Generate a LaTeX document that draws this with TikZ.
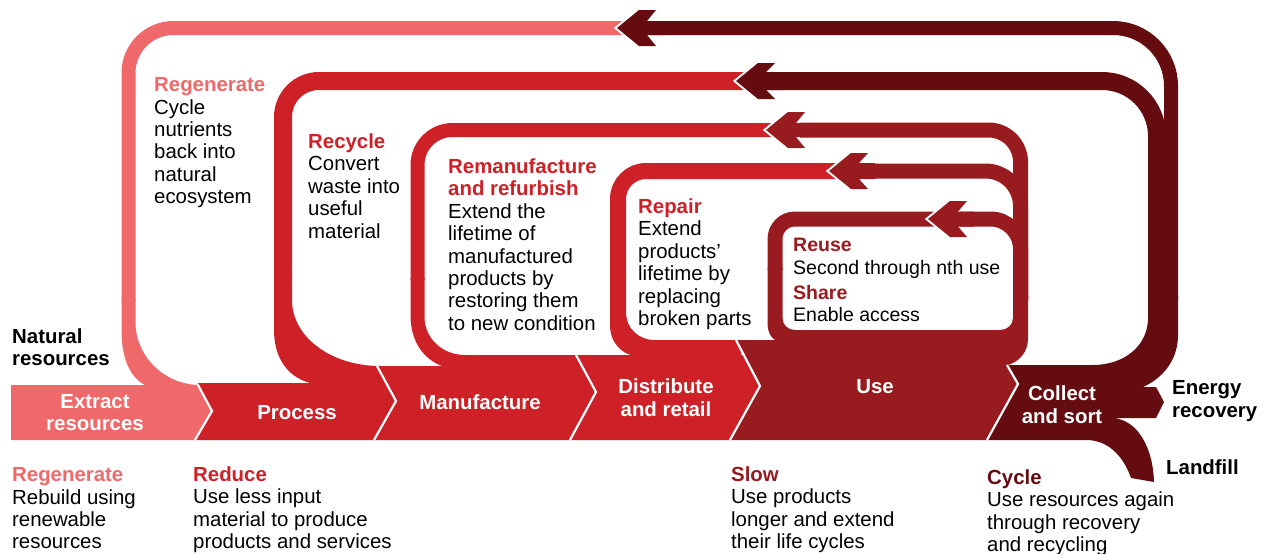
\documentclass[tikz,border=0pt]{standalone}
\usepackage{fontspec}
\setmainfont{Liberation Sans}

\definecolor{regen}{RGB}{240,105,106}
\definecolor{loopred}{RGB}{205,32,39}
\definecolor{usered}{RGB}{152,27,32}
\definecolor{collect}{RGB}{101,12,16}

\tikzset{
  txt/.style={font=\fontsize{20.4}{22.4}\selectfont, align=left, inner sep=0pt, anchor=north west},
  smalltxt/.style={txt, font=\fontsize{19.5}{22.4}\selectfont},
  stage/.style={font=\fontsize{20.4}{22.8}\selectfont\bfseries, text=white, align=center, inner sep=0pt},
  blackhead/.style={txt, font=\fontsize{20.4}{22.4}\selectfont\bfseries},
  sep/.style={white, line width=2.2pt},
}
% heading in colour
\newcommand\hd[2]{\textcolor{#1}{\bfseries #2}}
% arrow head: tip x, tip y, half bar width, colour
\newcommand\loophead[4]{%
  \draw[white, line width=4pt] (#1+22,#2-18) -- (#1,#2) -- (#1+22,#2+18);
  \fill[#4] (#1,#2) -- (#1+22,#2-18) -- (#1+39,#2-18) -- (#1+30,#2-#3) -- (#1+46,#2-#3)
    -- (#1+46,#2+#3) -- (#1+30,#2+#3) -- (#1+39,#2+18) -- (#1+22,#2+18) -- cycle;}

\begin{document}
\begin{tikzpicture}[x=1pt, y=-1pt]
\useasboundingbox (0,0) rectangle (1267,554);

% loops going back (left side)
\draw[regen, line width=14pt, rounded corners=45pt] (640,28) -- (128.5,28) -- (128.5,300);
\draw[loopred, line width=18pt, rounded corners=36pt] (760,81) -- (283,81) -- (283,280);
\draw[loopred, line width=14pt, rounded corners=35pt] (790,130) -- (417.5,130) -- (417.5,280);
\draw[loopred, line width=16pt, rounded corners=28pt] (850,171) -- (618,171) -- (618,280);
\draw[usered, line width=15pt, rounded corners=20pt] (950,219) -- (775,219) -- (775,270);

% return trunks (right side)
\draw[collect, line width=14pt, rounded corners=58pt] (650,28) -- (1171,28) -- (1171,300);
\draw[collect, line width=18pt, rounded corners=55pt] (770,81) -- (1157,81) -- (1157,300);
\draw[usered, line width=15pt, rounded corners=32pt] (800,130) -- (1020.5,130) -- (1020.5,300);
\draw[usered, line width=15pt, rounded corners=35pt] (862,171) -- (1020.5,171) -- (1020.5,300);
\draw[usered, line width=15pt, rounded corners=30pt] (960,219) -- (1020.5,219) -- (1020.5,300);

% joins into the band
\fill[regen] (121.5,298) -- (121.5,330) .. controls (121.5,360) and (131,380) .. (149,387)
  -- (200,387) -- (200,385) .. controls (165,385) and (135.5,357) .. (135.5,322) -- (135.5,298) -- cycle;
\fill[loopred] (274,278) -- (274,330) .. controls (274,362) and (292,383) .. (322,385)
  -- (386,385) -- (386,366) -- (380,366) .. controls (331,366) and (292,337) .. (292,300) -- (292,278) -- cycle;
\fill[loopred] (410.5,278) -- (410.5,315) .. controls (410.5,343) and (425,362) .. (448,368)
  -- (583,368) -- (583,355) -- (465,355) .. controls (442,355) and (424.5,338) .. (424.5,317) -- (424.5,278) -- cycle;
\fill[loopred] (610,278) -- (610,325) .. controls (610,343) and (622,356) .. (641,357)
  -- (741,357) -- (741,340) -- (655,340) .. controls (638,340) and (626,328) .. (626,312) -- (626,278) -- cycle;
\fill[usered] (767.5,268) -- (767.5,322) .. controls (767.5,334) and (772,341) .. (782,342)
  -- (1020,342) -- (1020,298) -- (1013,298) -- (1013,318) .. controls (1013,325) and (1007,330) .. (1000,330)
  -- (795,330) .. controls (788,330) and (782.5,325) .. (782.5,318) -- (782.5,268) -- cycle;
\fill[usered] (1013,296) -- (1028,296) -- (1028,338) .. controls (1028,352) and (1020,362) .. (1005,366)
  -- (995,366) -- (995,330) -- (1013,330) -- cycle;
\fill[collect] (1148,296) -- (1148,318) .. controls (1148,346) and (1124,365) .. (1093,365)
  -- (1093,390) -- (1143,390) -- (1143,387) .. controls (1163,378) and (1178,360) .. (1178,335) -- (1178,296) -- cycle;

% band
\fill[regen] (11,385) -- (198,385) -- (212,411) -- (195,440) -- (11,440) -- cycle;
\fill[loopred] (198,383) -- (386,383) -- (396,401) -- (374,440) -- (195,440) -- (212,411) -- cycle;
\fill[loopred] (377,366) -- (582,366) -- (596,392) -- (570,440) -- (374,440) -- (396,401) -- cycle;
\fill[loopred] (576,355) -- (744,355) -- (760,386) -- (730,440) -- (570,440) -- (596,392) -- cycle;
\fill[usered] (736,340) -- (1007,340) -- (1007,365) -- (1018,384) -- (987,440) -- (730,440) -- (760,386) -- cycle;
\fill[collect] (1007,365) -- (1095,365) -- (1095,387) -- (1156,387) -- (1164,402) -- (1156,418) -- (1113,418)
  .. controls (1138,420) and (1153,448) .. (1154,482) -- (1131,478)
  .. controls (1124,458) and (1110,441) .. (1088,440) -- (987,440) -- (1018,384) -- cycle;

\draw[sep] (198,385) -- (212,411) -- (195,440);
\draw[sep] (377,366) -- (396,401) -- (374,440);
\draw[sep] (576,355) -- (596,392) -- (570,440);
\draw[sep] (736,340) -- (760,386) -- (730,440);
\draw[sep] (1007,365) -- (1018,384) -- (987,440);

% arrow heads
\loophead{617}{28}{7}{collect}
\loophead{736}{81}{9}{collect}
\loophead{766}{130}{7}{usered}
\loophead{829}{171}{8}{usered}
\loophead{928}{219}{7.5}{usered}

% stages
\node[stage] (extract) at (95,412.5) {Extract\\resources};
\node[stage] (process) at (297,412.5) {Process};
\node[stage] (manuf) at (480,402.5) {Manufacture};
\node[stage] (distrib) at (666,397.5) {Distribute\\and retail};
\node[stage] (use) at (875,386.5) {Use};
\node[stage] (collsort) at (1062,404.5) {Collect\\and sort};

% loop texts
\node[txt] (regentxt) at (154,77.5) {\hd{regen}{Regenerate}\\Cycle\\nutrients\\back into\\natural\\ecosystem};
\node[txt] (recytxt) at (308,133.5) {\hd{loopred}{Recycle}\\Convert\\waste into\\useful\\material};
\node[txt] (remantxt) at (448,158.5) {\hd{loopred}{Remanufacture}\\\hd{loopred}{and refurbish}\\Extend the\\lifetime of\\manufactured\\products by\\restoring them\\to new condition};
\node[txt] (repairtxt) at (638,198.5) {\hd{loopred}{Repair}\\Extend\\products’\\lifetime by\\replacing\\broken parts};
\node[smalltxt] (reusetxt) at (793,238) {\hd{usered}{Reuse}\\Second through nth use\\[3pt]\hd{usered}{Share}\\Enable access};

% outside labels
\node[blackhead] (natural) at (12,328.5) {Natural\\resources};
\node[blackhead] (energy) at (1172,380.5) {Energy\\recovery};
\node[blackhead] (landfill) at (1166,459.5) {Landfill};

% bottom texts
\node[txt] (regenbot) at (12,467.5) {\hd{regen}{Regenerate}\\Rebuild using\\renewable\\resources};
\node[txt] (reduce) at (193,466.5) {\hd{loopred}{Reduce}\\Use less input\\material to produce\\products and services};
\node[txt] (slow) at (731,466.5) {\hd{usered}{Slow}\\Use products\\longer and extend\\their life cycles};
\node[txt] (cycle) at (987,469.5) {\hd{collect}{Cycle}\\Use resources again\\through recovery\\and recycling};
\end{tikzpicture}
\end{document}
